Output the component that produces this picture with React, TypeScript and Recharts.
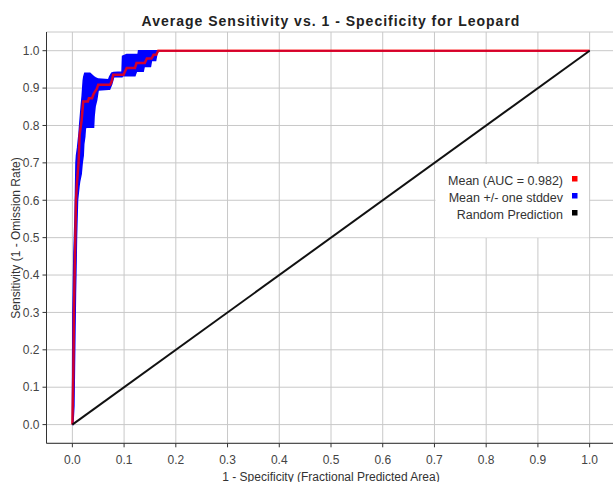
import React from 'react';
import { ComposedChart, Line, Area, XAxis, YAxis, CartesianGrid } from 'recharts';

const FONT = '"Liberation Sans", Arial, sans-serif';

const axisTicks = [0, 0.1, 0.2, 0.3, 0.4, 0.5, 0.6, 0.7, 0.8, 0.9, 1.0];

// Mean ROC curve (1 - specificity, sensitivity)
const meanX = [0, 0.002, 0.003, 0.005, 0.007, 0.009, 0.012, 0.014, 0.018, 0.021, 0.030, 0.032, 0.038, 0.041, 0.044, 0.047, 0.050, 0.073, 0.076, 0.079, 0.099, 0.102, 0.105, 0.121, 0.124, 0.140, 0.144, 0.153, 0.157, 0.162, 0.166, 1.0];
const meanY = [0, 0.15, 0.3, 0.45, 0.6, 0.65, 0.7, 0.775, 0.815, 0.864, 0.864, 0.873, 0.873, 0.884, 0.891, 0.897, 0.909, 0.909, 0.918, 0.936, 0.936, 0.945, 0.954, 0.954, 0.967, 0.967, 0.979, 0.979, 0.989, 0.989, 1.0, 1.0];

// Mean +/- one stddev band
const bandX = [0, 0.001, 0.003, 0.004, 0.005, 0.006, 0.007, 0.008, 0.010, 0.013, 0.014, 0.017, 0.019, 0.021, 0.022, 0.024, 0.025, 0.026, 0.034, 0.041, 0.042, 0.044, 0.047, 0.050, 0.070, 0.072, 0.076, 0.080, 0.096, 0.097, 0.105, 0.121, 0.124, 0.127, 0.128, 0.137, 0.139, 0.151, 0.153, 0.161, 0.163, 0.166, 1.0];
const bandLo = [0, 0.0, 0.05, 0.15, 0.25, 0.35, 0.42, 0.50, 0.60, 0.64, 0.65, 0.67, 0.70, 0.72, 0.75, 0.77, 0.79, 0.795, 0.795, 0.795, 0.824, 0.851, 0.868, 0.895, 0.897, 0.897, 0.91, 0.93, 0.93, 0.933, 0.933, 0.933, 0.945, 0.945, 0.945, 0.945, 0.958, 0.958, 0.974, 0.974, 0.989, 1.0, 1.0];
const bandHi = [0, 0.3, 0.46, 0.5, 0.55, 0.62, 0.70, 0.72, 0.74, 0.78, 0.80, 0.85, 0.88, 0.92, 0.93, 0.94, 0.94, 0.94, 0.94, 0.931, 0.930, 0.928, 0.926, 0.924, 0.922, 0.930, 0.94, 0.942, 0.943, 0.985, 0.99, 0.99, 0.99, 0.99, 1.0, 1.0, 1.0, 1.0, 1.0, 1.0, 1.0, 1.0, 1.0];

// Random prediction diagonal
const diagX = [0, 1];
const diagY = [0, 1];

const legendItems = [
  { label: 'Mean (AUC = 0.982)', color: '#ff0000' },
  { label: 'Mean +/- one stddev', color: '#0000ff' },
  { label: 'Random Prediction', color: '#000000' },
];

const meanData = meanX.map((x, i) => ({ x, mean: meanY[i] }));
const bandData = bandX.map((x, i) => ({ x, band: [bandLo[i], bandHi[i]] }));
const diagData = diagX.map((x, i) => ({ x, diag: diagY[i] }));

const DOMAIN: [number, number] = [-0.05, 1.05];
const fmt = (v: number) => v.toFixed(1);
const tickStyle = { fontSize: 12, fill: '#444', fontFamily: FONT };

export default function App() {
  return (
    <div style={{ position: 'absolute', left: 0, top: 0, width: 613, height: 482, overflow: 'hidden', background: '#fff' }}>
      <ComposedChart width={620} height={482} margin={{ top: 32, right: 4.5, bottom: 0, left: 0 }}>
        <CartesianGrid stroke="#c8c8c8" strokeWidth={1} />
        <XAxis
          xAxisId={0}
          dataKey="x"
          type="number"
          domain={DOMAIN}
          allowDataOverflow
          ticks={axisTicks}
          tickFormatter={fmt}
          tick={tickStyle}
          tickSize={4}
          tickMargin={8}
          height={38.7}
          axisLine={{ stroke: '#333' }}
          tickLine={{ stroke: '#333' }}
          interval={0}
        />
        <XAxis
          xAxisId="top"
          orientation="top"
          dataKey="x"
          type="number"
          domain={DOMAIN}
          allowDataOverflow
          ticks={axisTicks}
          tick={false}
          mirror
          tickSize={4}
          height={0}
          axisLine={{ stroke: '#555' }}
          tickLine={{ stroke: '#333' }}
          interval={0}
        />
        <YAxis
          yAxisId={0}
          type="number"
          domain={DOMAIN}
          allowDataOverflow
          ticks={axisTicks}
          tickFormatter={fmt}
          tick={tickStyle}
          tickSize={4}
          tickMargin={3}
          width={46.5}
          axisLine={{ stroke: '#333' }}
          tickLine={{ stroke: '#333' }}
          interval={0}
        />
        <YAxis
          yAxisId="right"
          orientation="right"
          type="number"
          domain={DOMAIN}
          allowDataOverflow
          ticks={axisTicks}
          tick={false}
          mirror
          tickSize={4}
          width={0}
          axisLine={{ stroke: '#555' }}
          tickLine={{ stroke: '#333' }}
          interval={0}
        />
        <Area
          data={bandData}
          dataKey="band"
          type="linear"
          fill="#0000ff"
          fillOpacity={1}
          stroke="#0000ff"
          strokeWidth={1.5}
          isAnimationActive={false}
          dot={false}
          activeDot={false}
        />
        <Line
          data={meanData}
          dataKey="mean"
          type="linear"
          stroke="#ff0000"
          strokeOpacity={0.82}
          strokeWidth={2.5}
          dot={false}
          activeDot={false}
          isAnimationActive={false}
        />
        <Line
          data={diagData}
          dataKey="diag"
          type="linear"
          stroke="#111"
          strokeWidth={2}
          dot={false}
          activeDot={false}
          isAnimationActive={false}
        />
      </ComposedChart>
      <svg width={613} height={482} style={{ position: 'absolute', left: 0, top: 0, pointerEvents: 'none' }}>
        <text x={331} y={25.5} textAnchor="middle" fontFamily={FONT} fontSize={14} fontWeight="bold" letterSpacing={1} fill="#222">
          Average Sensitivity vs. 1 - Specificity for Leopard
        </text>
        <text x={331} y={480.5} textAnchor="middle" fontFamily={FONT} fontSize={12} fill="#333">
          1 - Specificity (Fractional Predicted Area)
        </text>
        <text transform="translate(20,238) rotate(-90)" textAnchor="middle" fontFamily={FONT} fontSize={12} fill="#333">
          Sensitivity (1 - Omission Rate)
        </text>
        <rect x={435.5} y={164} width={153.5} height={73.5} fill="#fff" />
        {legendItems.map((it, i) => (
          <g key={it.label}>
            <text x={563} y={185 + i * 16.9} textAnchor="end" fontFamily={FONT} fontSize={12.5} fill="#333">
              {it.label}
            </text>
            <rect x={572} y={176 + i * 17} width={5.5} height={5.5} fill={it.color} />
          </g>
        ))}
      </svg>
    </div>
  );
}
